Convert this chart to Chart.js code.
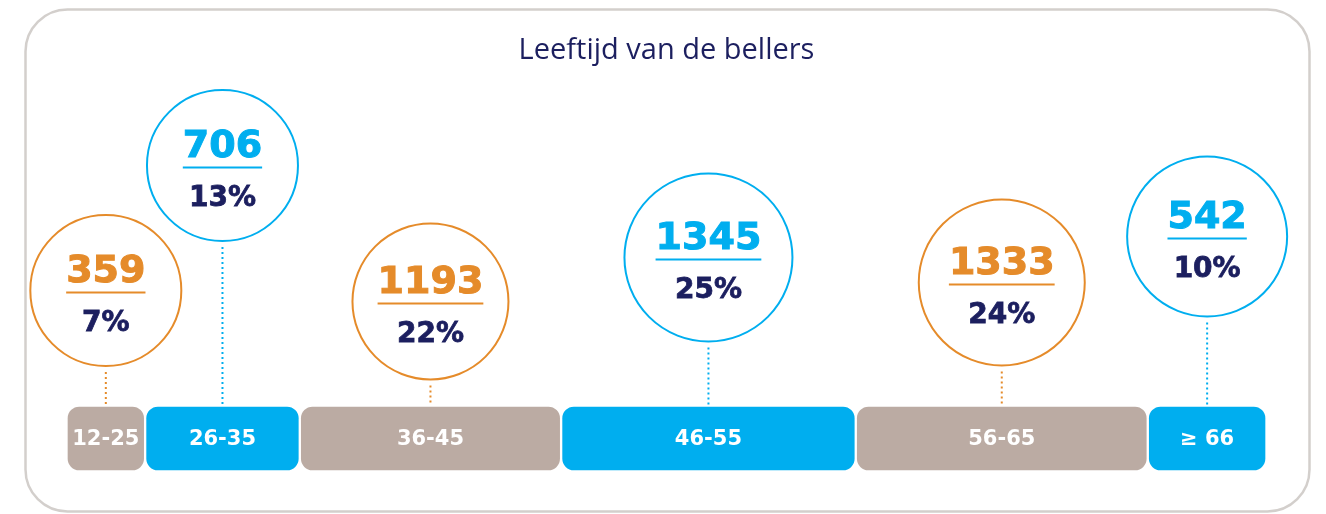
<!DOCTYPE html>
<html>
<head>
<meta charset="utf-8">
<script src="https://cdn.jsdelivr.net/npm/chart.js@4"></script>
<style>
  html, body { margin: 0; padding: 0; background: #fff; }
  #wrap { width: 1326px; height: 514px; }
</style>
</head>
<body>
<div id="wrap"><canvas id="myChart" width="1326" height="514"></canvas></div>
<script>
// data
const ageGroups = ['12-25', '26-35', '36-45', '46-55', '56-65', '≥ 66'];
const callers = [359, 706, 1193, 1345, 1333, 542];
const percentages = [7, 13, 22, 25, 24, 10];

// styles
const barColors = ['#bbaba3', '#00aeef', '#bbaba3', '#00aeef', '#bbaba3', '#00aeef'];
const ringColors = ['#e58b2a', '#00aeef', '#e58b2a', '#00aeef', '#e58b2a', '#00aeef'];
const navy = '#1c1f5f';

const ctx = document.getElementById('myChart');

// card frame behind everything
const cardPlugin = {
  id: 'card',
  beforeDraw(chart) {
    const c = chart.ctx;
    c.save();
    c.fillStyle = '#fff';
    c.fillRect(0, 0, chart.width, chart.height);
    c.beginPath();
    c.roundRect(25.5, 9.5, 1284, 502, 42);
    c.lineWidth = 2.5;
    c.strokeStyle = '#d3cfcc';
    c.stroke();
    c.restore();
  }
};

// labels on the bar + bubbles above each segment
const bubblePlugin = {
  id: 'bubbles',
  afterDatasetsDraw(chart, args, opts) {
    const c = chart.ctx;
    const top = chart.chartArea.top;
    c.save();
    chart.data.datasets.forEach((ds, i) => {
      const bar = chart.getDatasetMeta(i).data[0];
      const cx = (bar.x + bar.base) / 2;

      // age label
      c.fillStyle = '#fff';
      c.font = 'bold 21px "DejaVu Sans"';
      c.textAlign = 'center';
      c.textBaseline = 'middle';
      c.fillText(ds.label, cx, bar.y + 1);

      const r = opts.radius[i];
      const cy = top - opts.lift[i];
      const col = ringColors[i];

      // dotted connector
      c.beginPath();
      c.setLineDash([2, 3]);
      c.lineWidth = 2;
      c.strokeStyle = col;
      c.moveTo(cx, cy + r + 6);
      c.lineTo(cx, top - 1);
      c.stroke();
      c.setLineDash([]);

      // ring
      c.beginPath();
      c.arc(cx, cy, r, 0, Math.PI * 2);
      c.lineWidth = 2;
      c.fillStyle = '#fff';
      c.fill();
      c.stroke();

      // count + underline
      const num = String(ds.data[0]);
      c.font = 'bold 38px "DejaVu Sans"';
      c.textBaseline = 'alphabetic';
      c.fillStyle = col;
      c.lineWidth = 1;
      c.fillText(num, cx, cy - 9);
      c.strokeText(num, cx, cy - 9);
      const w = c.measureText(num).width;
      c.fillRect(cx - w / 2, cy + 1, w, 2);

      // share
      c.font = 'bold 28px "DejaVu Sans"';
      c.fillStyle = navy;
      c.strokeStyle = navy;
      c.lineWidth = 0.8;
      c.fillText(percentages[i] + '%', cx, cy + 40);
      c.strokeText(percentages[i] + '%', cx, cy + 40);
    });
    c.restore();
  }
};

new Chart(ctx, {
  type: 'bar',
  data: {
    labels: ['bellers'],
    datasets: ageGroups.map((g, i) => ({
      label: g,
      data: [callers[i]],
      backgroundColor: barColors[i],
      borderColor: '#fff',
      borderWidth: 1.5,
      borderSkipped: false,
      borderRadius: { topLeft: 13, topRight: 13, bottomLeft: 13, bottomRight: 13 },
      categoryPercentage: 1,
      barPercentage: 1
    }))
  },
  options: {
    indexAxis: 'y',
    responsive: false,
    animation: false,
    layout: { padding: { left: 66.5, right: 59.5, top: 33, bottom: 42.5 } },
    scales: {
      x: { stacked: true, display: false, min: 0, max: callers.reduce((a, b) => a + b, 0) },
      y: { stacked: true, display: false }
    },
    plugins: {
      legend: { display: false },
      tooltip: { enabled: false },
      title: {
        display: true,
        text: 'Leeftijd van de bellers',
        color: navy,
        font: { family: 'Open Sans', size: 29, weight: '500' },
        padding: { top: 0, bottom: 337.7 }
      },
      bubbles: {
        lift: [115, 240, 104, 148, 123, 169],
        radius: [75.5, 75.5, 78, 84, 83, 80]
      }
    }
  },
  plugins: [cardPlugin, bubblePlugin]
});
</script>
</body>
</html>
